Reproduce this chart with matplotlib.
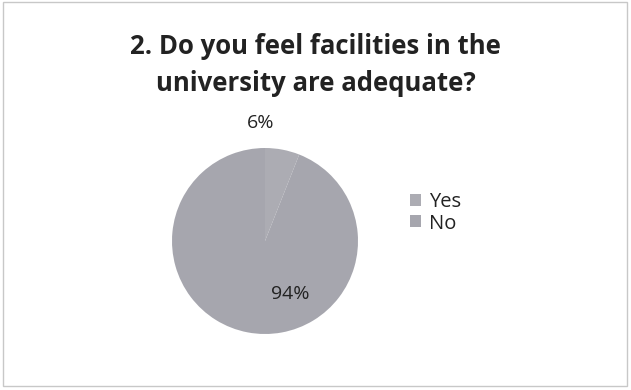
import matplotlib
matplotlib.use("Agg")
import matplotlib.pyplot as plt
from matplotlib.patches import Rectangle

plt.rcParams["font.family"] = ["Open Sans", "DejaVu Sans"]

labels = ["Yes", "No"]
values = [6, 94]
pct_labels = ["6%", "94%"]
colors = ["#acacb3", "#a6a6ae"]
title = "2. Do you feel facilities in the\nuniversity are adequate?"

fig = plt.figure(figsize=(6.31, 3.90), dpi=100)
fig.patch.set_facecolor("white")
fig.add_artist(Rectangle((0.004, 0.01), 0.99, 0.985, transform=fig.transFigure,
                         fill=False, edgecolor="#c8c8c8", linewidth=1))

fig.text(0.50, 0.833, title, ha="center", va="center", fontsize=18.5,
         fontweight="bold", color="#222222", linespacing=1.45)

# pie centre ~ (265, 241) px, radius ~93 px
ax = fig.add_axes([(265 - 93) / 631, (390 - 241 - 93) / 390, 186 / 631, 186 / 390])
wedges, _ = ax.pie(values, colors=colors, startangle=90, counterclock=False,
                   radius=1.0, wedgeprops=dict(linewidth=0))
ax.set_xlim(-1, 1)
ax.set_ylim(-1, 1)
ax.set_aspect("equal")

ax.text(-0.05, 1.27, pct_labels[0], ha="center", va="center", fontsize=14, color="#222222")
ax.text(0.27, -0.57, pct_labels[1], ha="center", va="center", fontsize=14, color="#222222")

leg = fig.legend(wedges, labels, loc="center left", bbox_to_anchor=(392 / 631, 1 - 213 / 390),
                 frameon=False, fontsize=14.5, handlelength=0.55, handleheight=0.55,
                 handletextpad=0.4, labelspacing=0.05)
for t in leg.get_texts():
    t.set_color("#222222")

fig.savefig("out.png", dpi=100)
